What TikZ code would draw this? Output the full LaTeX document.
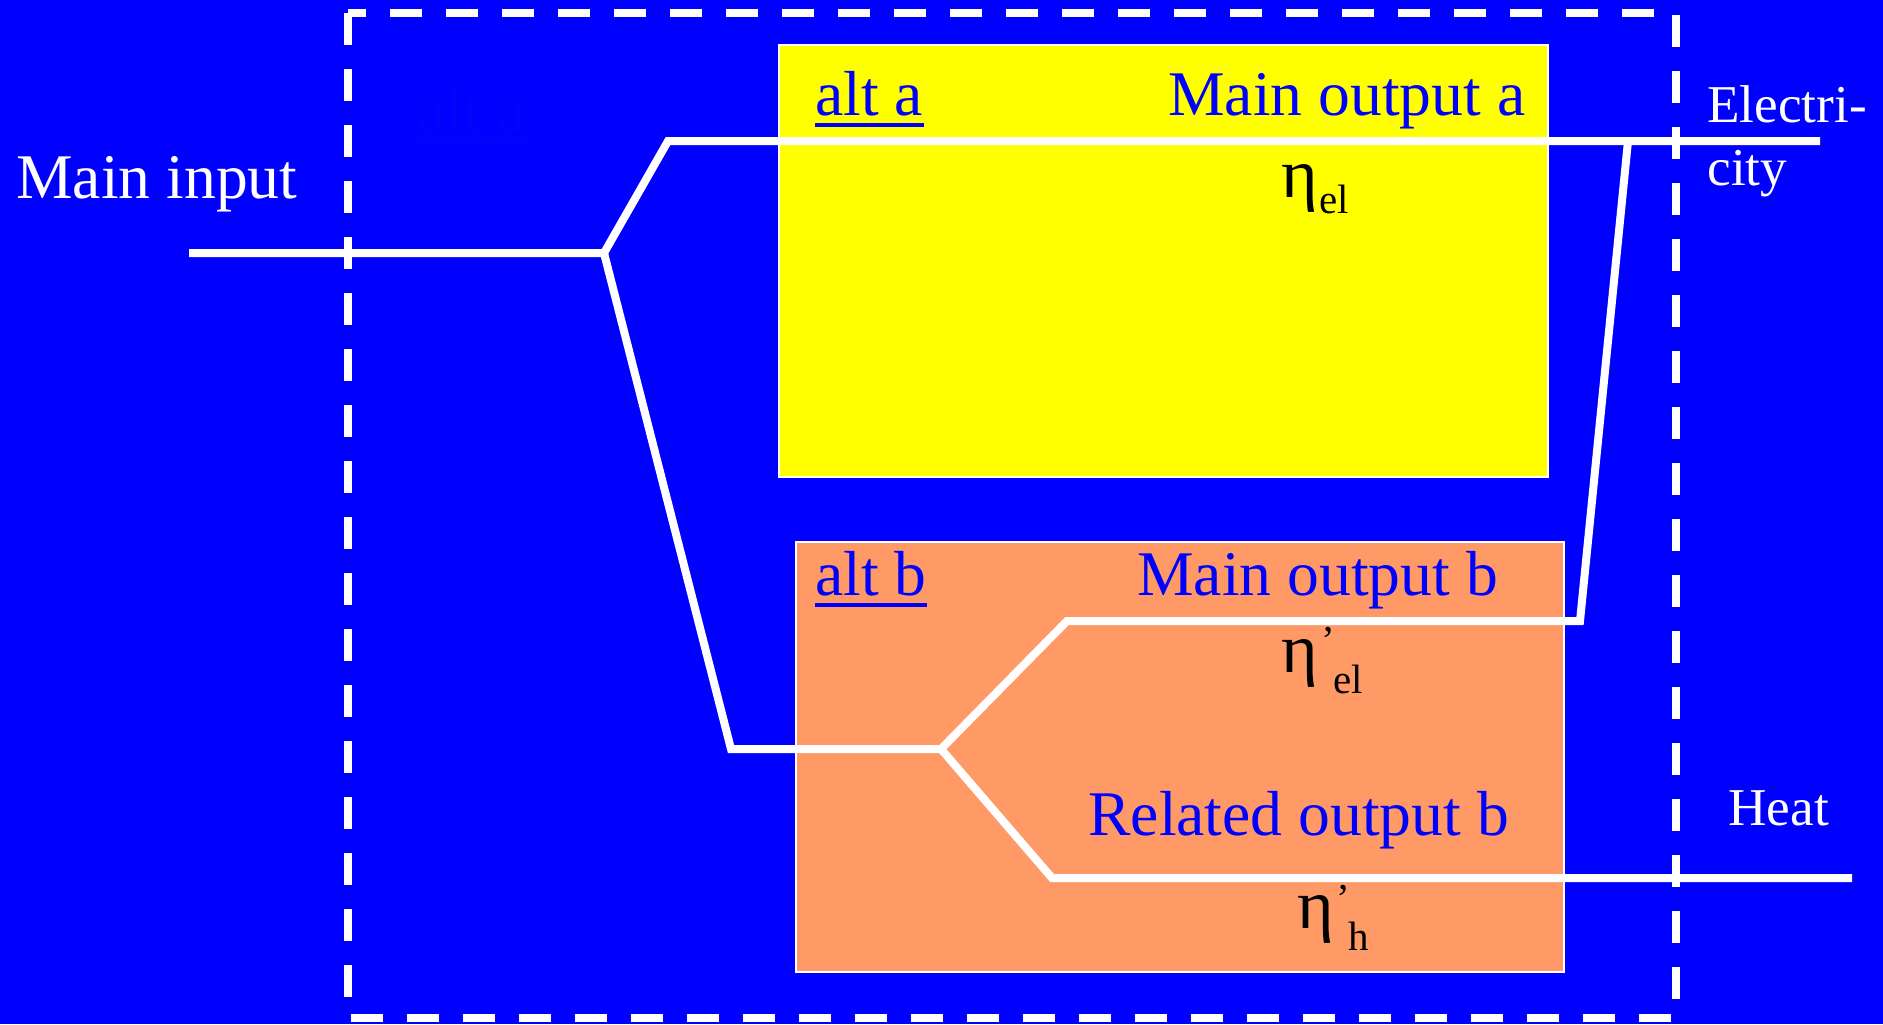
\documentclass[tikz,border=0pt]{standalone}
\usepackage{fontspec}
\setmainfont{Liberation Serif}
\definecolor{bgblue}{RGB}{0,0,255}
\definecolor{boxyellow}{RGB}{255,255,0}
\definecolor{boxorange}{RGB}{255,153,102}
\definecolor{hiddenblue}{RGB}{3,3,249}
\tikzset{
  flow/.style={draw=white, line width=4pt, line join=miter},
  frame/.style={draw=white, line width=4pt, dash pattern=on 16pt off 12pt},
  altbox/.style={draw=white, line width=1pt},
  bigtxt/.style={inner sep=0pt, anchor=base west, font=\fontsize{31.8}{36}\selectfont},
  sidetxt/.style={inner sep=0pt, anchor=base west, text=white, font=\fontsize{26.6}{30}\selectfont},
  etatxt/.style={inner sep=0pt, anchor=base west, text=black, font=\fontsize{35}{40}\selectfont},
  subtxt/.style={inner sep=0pt, anchor=base west, text=black, font=\fontsize{20.5}{24}\selectfont},
  uline/.style={line width=2pt}
}
\begin{document}
\begin{tikzpicture}[x=0.5pt,y=-0.5pt]
\fill[bgblue] (0,0) rectangle (1883,1024);
\useasboundingbox (0,0) rectangle (1883,1024);

% boxes
\path[altbox, fill=boxyellow] (779,45) rectangle (1548,477);
\path[altbox, fill=boxorange] (796,542) rectangle (1564,972);

% dashed system boundary
\draw[frame] (348,13) rectangle (1676,1018);

% hidden label
\node[bigtxt, text=hiddenblue] (altHidden) at (418,132) {alt a};
\draw[uline, hiddenblue] ([yshift=-4.5pt]altHidden.base west) -- ([yshift=-4.5pt]altHidden.base east);

% coordinates of the flows
\coordinate (inStart) at (189,253);
\coordinate (split) at (604,253);
\coordinate (upBend) at (668,141);
\coordinate (elecEnd) at (1820,141);
\coordinate (joinTop) at (1628,141);
\coordinate (joinBot) at (1580,621);
\coordinate (lowBend) at (731,749);
\coordinate (splitB) at (941,749);
\coordinate (mainBStart) at (1067,621);
\coordinate (heatBend) at (1052,878);
\coordinate (heatEnd) at (1852,878);

\draw[flow] (inStart) -- (split) -- (upBend) -- (elecEnd);
\draw[flow] (split) -- (lowBend) -- (splitB) -- (mainBStart) -- (joinBot) -- (joinTop);
\draw[flow] (splitB) -- (heatBend) -- (heatEnd);

% texts
\node[bigtxt, text=white] (mainIn) at (16,198) {Main input};

\node[bigtxt, text=bgblue] (altA) at (815,115) {alt a};
\draw[uline, bgblue] ([yshift=-5pt]altA.base west) -- ([yshift=-5pt]altA.base east);
\node[bigtxt, text=bgblue] (mainOutA) at (1168,115) {Main output a};
\node[etatxt] (etaA) at (1281,197) {η};
\node[subtxt] (etaAsub) at (1319,213) {el};

\node[bigtxt, text=bgblue] (altB) at (815,595) {alt b};
\draw[uline, bgblue] ([yshift=-5pt]altB.base west) -- ([yshift=-5pt]altB.base east);
\node[bigtxt, text=bgblue] (mainOutB) at (1137,595) {Main output b};
\node[etatxt] (etaB) at (1281,672) {η};
\node[subtxt] (etaBprime) at (1321,654) {’};
\node[subtxt] (etaBsub) at (1333,693) {el};

\node[bigtxt, text=bgblue] (relOutB) at (1088,835) {Related output b};
\node[etatxt] (etaH) at (1297,928) {η};
\node[subtxt] (etaHprime) at (1336,912) {’};
\node[subtxt] (etaHsub) at (1348,950) {h};

\node[sidetxt] (elec1) at (1707,122) {Electri-};
\node[sidetxt] (elec2) at (1707,185) {city};
\node[sidetxt] (heat) at (1728,825) {Heat};
\end{tikzpicture}
\end{document}
